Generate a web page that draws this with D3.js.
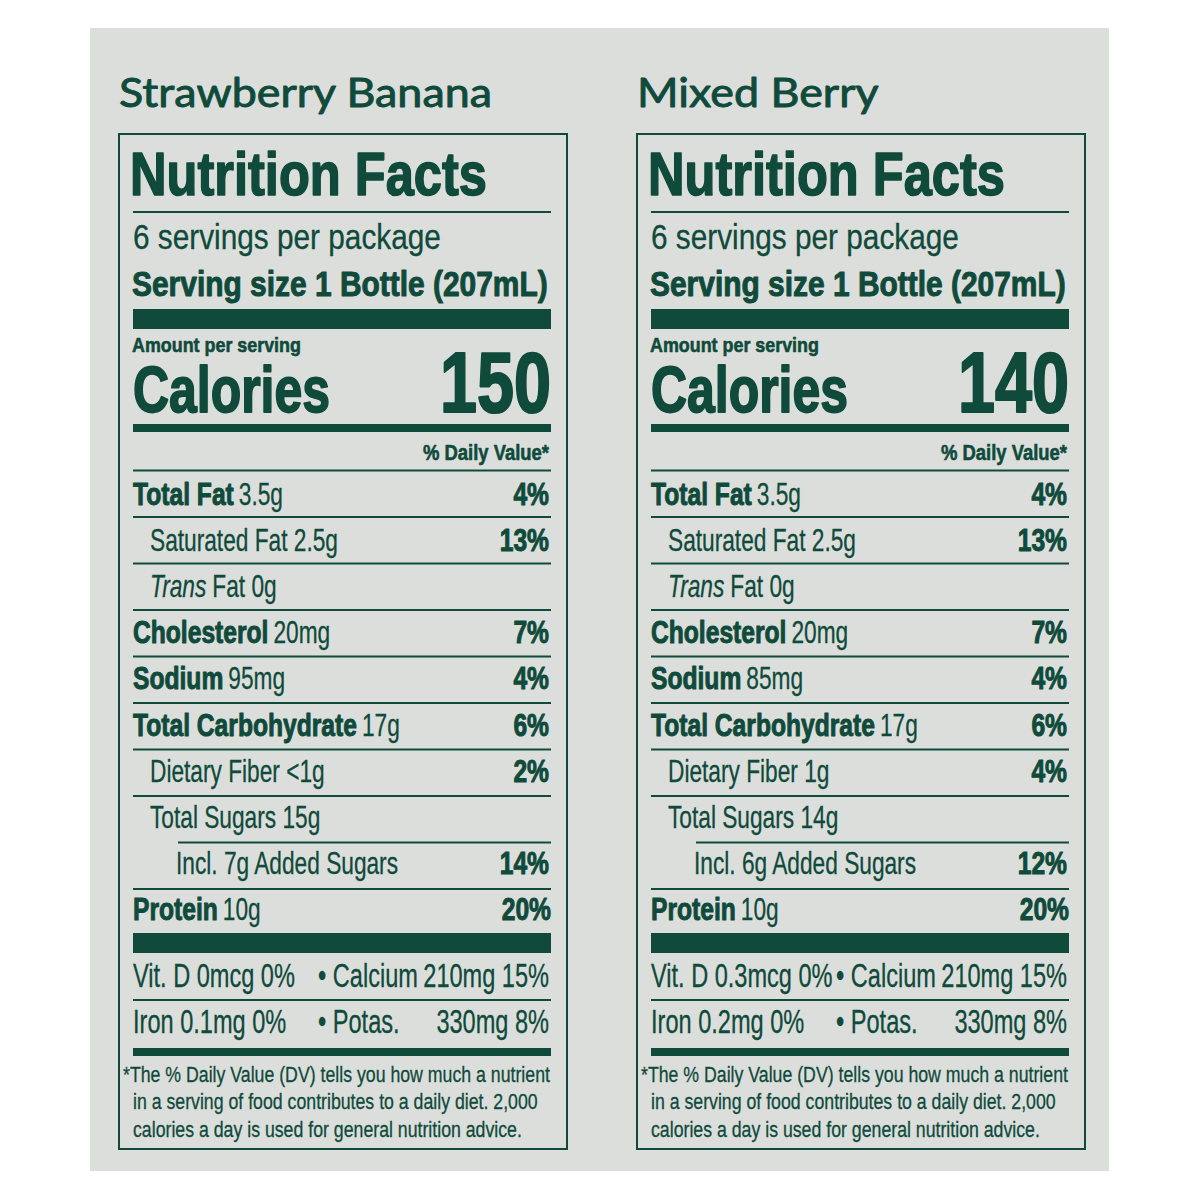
<!DOCTYPE html>
<html><head><meta charset="utf-8">
<script src="https://cdn.jsdelivr.net/npm/d3@7"></script>
<style>html,body{margin:0;padding:0;background:#fff;}</style>
</head><body><svg id="c" width="1200" height="1200"></svg>
<script>
// ---- data ----
const flavors = ["Strawberry Banana", "Mixed Berry"];
const servingsText = ["6 servings per package", "6 servings per package"];
const servingSize = ["Serving size 1 Bottle (207mL)", "Serving size 1 Bottle (207mL)"];
const calories = [150, 140];
const rowLabels = ["Total Fat", "Saturated Fat", "Trans Fat", "Cholesterol", "Sodium",
  "Total Carbohydrate", "Dietary Fiber", "Total Sugars", "Added Sugars", "Protein"];
const rowBold = [true, false, false, true, true, true, false, false, false, true];
const rowIndent = [0, 1, 1, 0, 0, 0, 1, 1, 2, 0];
const amountsSB = ["3.5g", "2.5g", "0g", "20mg", "95mg", "17g", "<1g", "15g", "7g", "10g"];
const amountsMB = ["3.5g", "2.5g", "0g", "20mg", "85mg", "17g", "1g", "14g", "6g", "10g"];
const dvSB = ["4%", "13%", "", "7%", "4%", "6%", "2%", "", "14%", "20%"];
const dvMB = ["4%", "13%", "", "7%", "4%", "6%", "4%", "", "12%", "20%"];
const vitD = ["Vit. D 0mcg 0%", "Vit. D 0.3mcg 0%"];
const calcium = ["210mg 15%", "210mg 15%"];
const iron = ["Iron 0.1mg 0%", "Iron 0.2mg 0%"];
const potassium = ["330mg 8%", "330mg 8%"];
const footnote = ["*The % Daily Value (DV) tells you how much a nutrient",
  "in a serving of food contributes to a daily diet. 2,000",
  "calories a day is used for general nutrition advice."];

const amounts = [amountsSB, amountsMB];
const dvs = [dvSB, dvMB];

const GREEN = "#0f4a3b", BG = "#dcdedc";
const svg = d3.select("#c");
svg.append("rect").attr("x", 90).attr("y", 28).attr("width", 1019).attr("height", 1143).attr("fill", BG);

const COND = "'Liberation Sans', Arial, Helvetica, sans-serif";
const STY = {
  title: {f: "Lato, 'Open Sans', sans-serif", w: "normal", s: 40, sw: 0.9, cal: "Strawberry Banana", cw: 373},
  nf: {f: COND, w: "bold", s: 62, sw: 1.6, cal: "Nutrition Facts", cw: 357},
  serv: {f: COND, w: "normal", s: 35, sw: 0.3, cal: "6 servings per package", cw: 308},
  size: {f: COND, w: "bold", s: 35, sw: 1.0, cal: "Serving size 1 Bottle (207mL)", cw: 416},
  amt: {f: COND, w: "bold", s: 21, sw: 0.6, cal: "Amount per serving", cw: 169},
  cal: {f: COND, w: "bold", s: 64, sw: 1.8, cal: "Calories", cw: 197},
  calnum: {f: COND, w: "bold", s: 86, sw: 2.2, cal: "150", cw: 111},
  dvh: {f: COND, w: "bold", s: 22, sw: 0.6, cal: "% Daily Value*", cw: 126},
  rb: {f: COND, w: "bold", s: 32, sw: 1.0, cal: "Total Carbohydrate", cw: 224},
  rr: {f: COND, w: "normal", s: 32, sw: 0.3, cal: "Saturated Fat 2.5g", cw: 188},
  vit: {f: COND, w: "normal", s: 33, sw: 0.3, cal: "Vit. D 0mcg 0%", cw: 162},
  foot: {f: COND, w: "normal", s: 22, sw: 0.3, cal: "*The % Daily Value (DV) tells you how much a nutrient", cw: 427}
};
function calib(st) {
  const t = svg.append("text").attr("font-family", st.f).attr("font-weight", st.w)
    .attr("font-size", st.s).text(st.cal);
  const w = t.node().getComputedTextLength();
  t.remove();
  st.k = st.cw / w;
}
Object.values(STY).forEach(calib);

function txt(g, x, y, str, st, anchor = "start", italic = false) {
  const t = g.append("text")
    .attr("transform", `translate(${x},${y}) scale(${st.k},1)`)
    .attr("font-family", st.f).attr("font-weight", st.w).attr("font-size", st.s)
    .attr("font-style", italic ? "italic" : "normal")
    .attr("stroke", GREEN).attr("stroke-width", st.sw).attr("stroke-linejoin", "round")
    .attr("text-anchor", anchor).attr("fill", GREEN).text(str);
  return t.node().getComputedTextLength() * st.k;
}
function run(g, x, y, parts) {
  let cx = x;
  parts.forEach(p => {
    const w = txt(g, cx, y, p.t, p.st, "start", p.it);
    cx += w + (p.gap == null ? 6 : p.gap);
  });
}

// ---- scales ----
const xPanel = d3.scaleOrdinal().domain(flavors).range([118, 636]);
const yRow = d3.scaleLinear().domain([0, 9]).range([505, 920]);
const ySep = d3.scaleLinear().domain([0, 9]).range([470.5, 889]);

flavors.forEach((fl, i) => {
  const x0 = xPanel(fl);
  const g = svg.append("g");
  const L = x0 + 15, R = x0 + 433;
  txt(g, x0 + 1, 107, fl, STY.title);
  g.append("rect").attr("x", x0 + 1).attr("y", 134).attr("width", 448).attr("height", 1015)
    .attr("fill", "none").attr("stroke", GREEN).attr("stroke-width", 2);
  txt(g, L - 3, 195, "Nutrition Facts", STY.nf);
  const hline = (y, x1, h) => g.append("rect").attr("x", x1).attr("y", y - h / 2)
    .attr("width", R - x1).attr("height", h).attr("fill", GREEN);
  hline(212, L, 2);
  txt(g, L, 249, servingsText[i], STY.serv);
  txt(g, L - 1, 296, servingSize[i], STY.size);
  g.append("rect").attr("x", L).attr("y", 309).attr("width", R - L).attr("height", 20).attr("fill", GREEN);
  txt(g, L - 1, 352, "Amount per serving", STY.amt);
  txt(g, L, 412, "Calories", STY.cal);
  txt(g, R, 412, String(calories[i]), STY.calnum, "end");
  g.append("rect").attr("x", L).attr("y", 424).attr("width", R - L).attr("height", 8).attr("fill", GREEN);
  txt(g, R - 2, 460, "% Daily Value*", STY.dvh, "end");

  for (let k = 0; k < 10; k++) hline(ySep(k), k === 8 ? x0 + 60 : L, 2);

  rowLabels.forEach((lab, r) => {
    const y = yRow(r);
    const ix = L + [0, 17, 43][rowIndent[r]];
    const amt = amounts[i][r];
    let parts;
    if (r === 2) parts = [{t: "Trans", st: STY.rr, it: true, gap: 6}, {t: "Fat " + amt, st: STY.rr}];
    else if (r === 8) parts = [{t: "Incl. " + amt + " " + lab, st: STY.rr}];
    else if (rowBold[r]) parts = [{t: lab, st: STY.rb, gap: 5}, {t: amt, st: STY.rr}];
    else parts = [{t: lab + " " + amt, st: STY.rr}];
    run(g, ix, y, parts);
    if (dvs[i][r]) txt(g, r === 9 ? R : R - 2, y, dvs[i][r], STY.rb, "end");
  });

  g.append("rect").attr("x", L).attr("y", 933).attr("width", R - L).attr("height", 20).attr("fill", GREEN);
  txt(g, L, 987, vitD[i], STY.vit);
  txt(g, x0 + 200, 987, "• Calcium", STY.vit);
  txt(g, R - 2, 987, calcium[i], STY.vit, "end");
  hline(1000, L, 2);
  txt(g, L, 1033, iron[i], STY.vit);
  txt(g, x0 + 200, 1033, "• Potas.", STY.vit);
  txt(g, R - 2, 1033, potassium[i], STY.vit, "end");
  g.append("rect").attr("x", L).attr("y", 1048).attr("width", R - L).attr("height", 8).attr("fill", GREEN);
  footnote.forEach((ln, j) => txt(g, j === 0 ? L - 10 : L, [1082, 1109, 1137][j], ln, STY.foot));
});
</script></body></html>
